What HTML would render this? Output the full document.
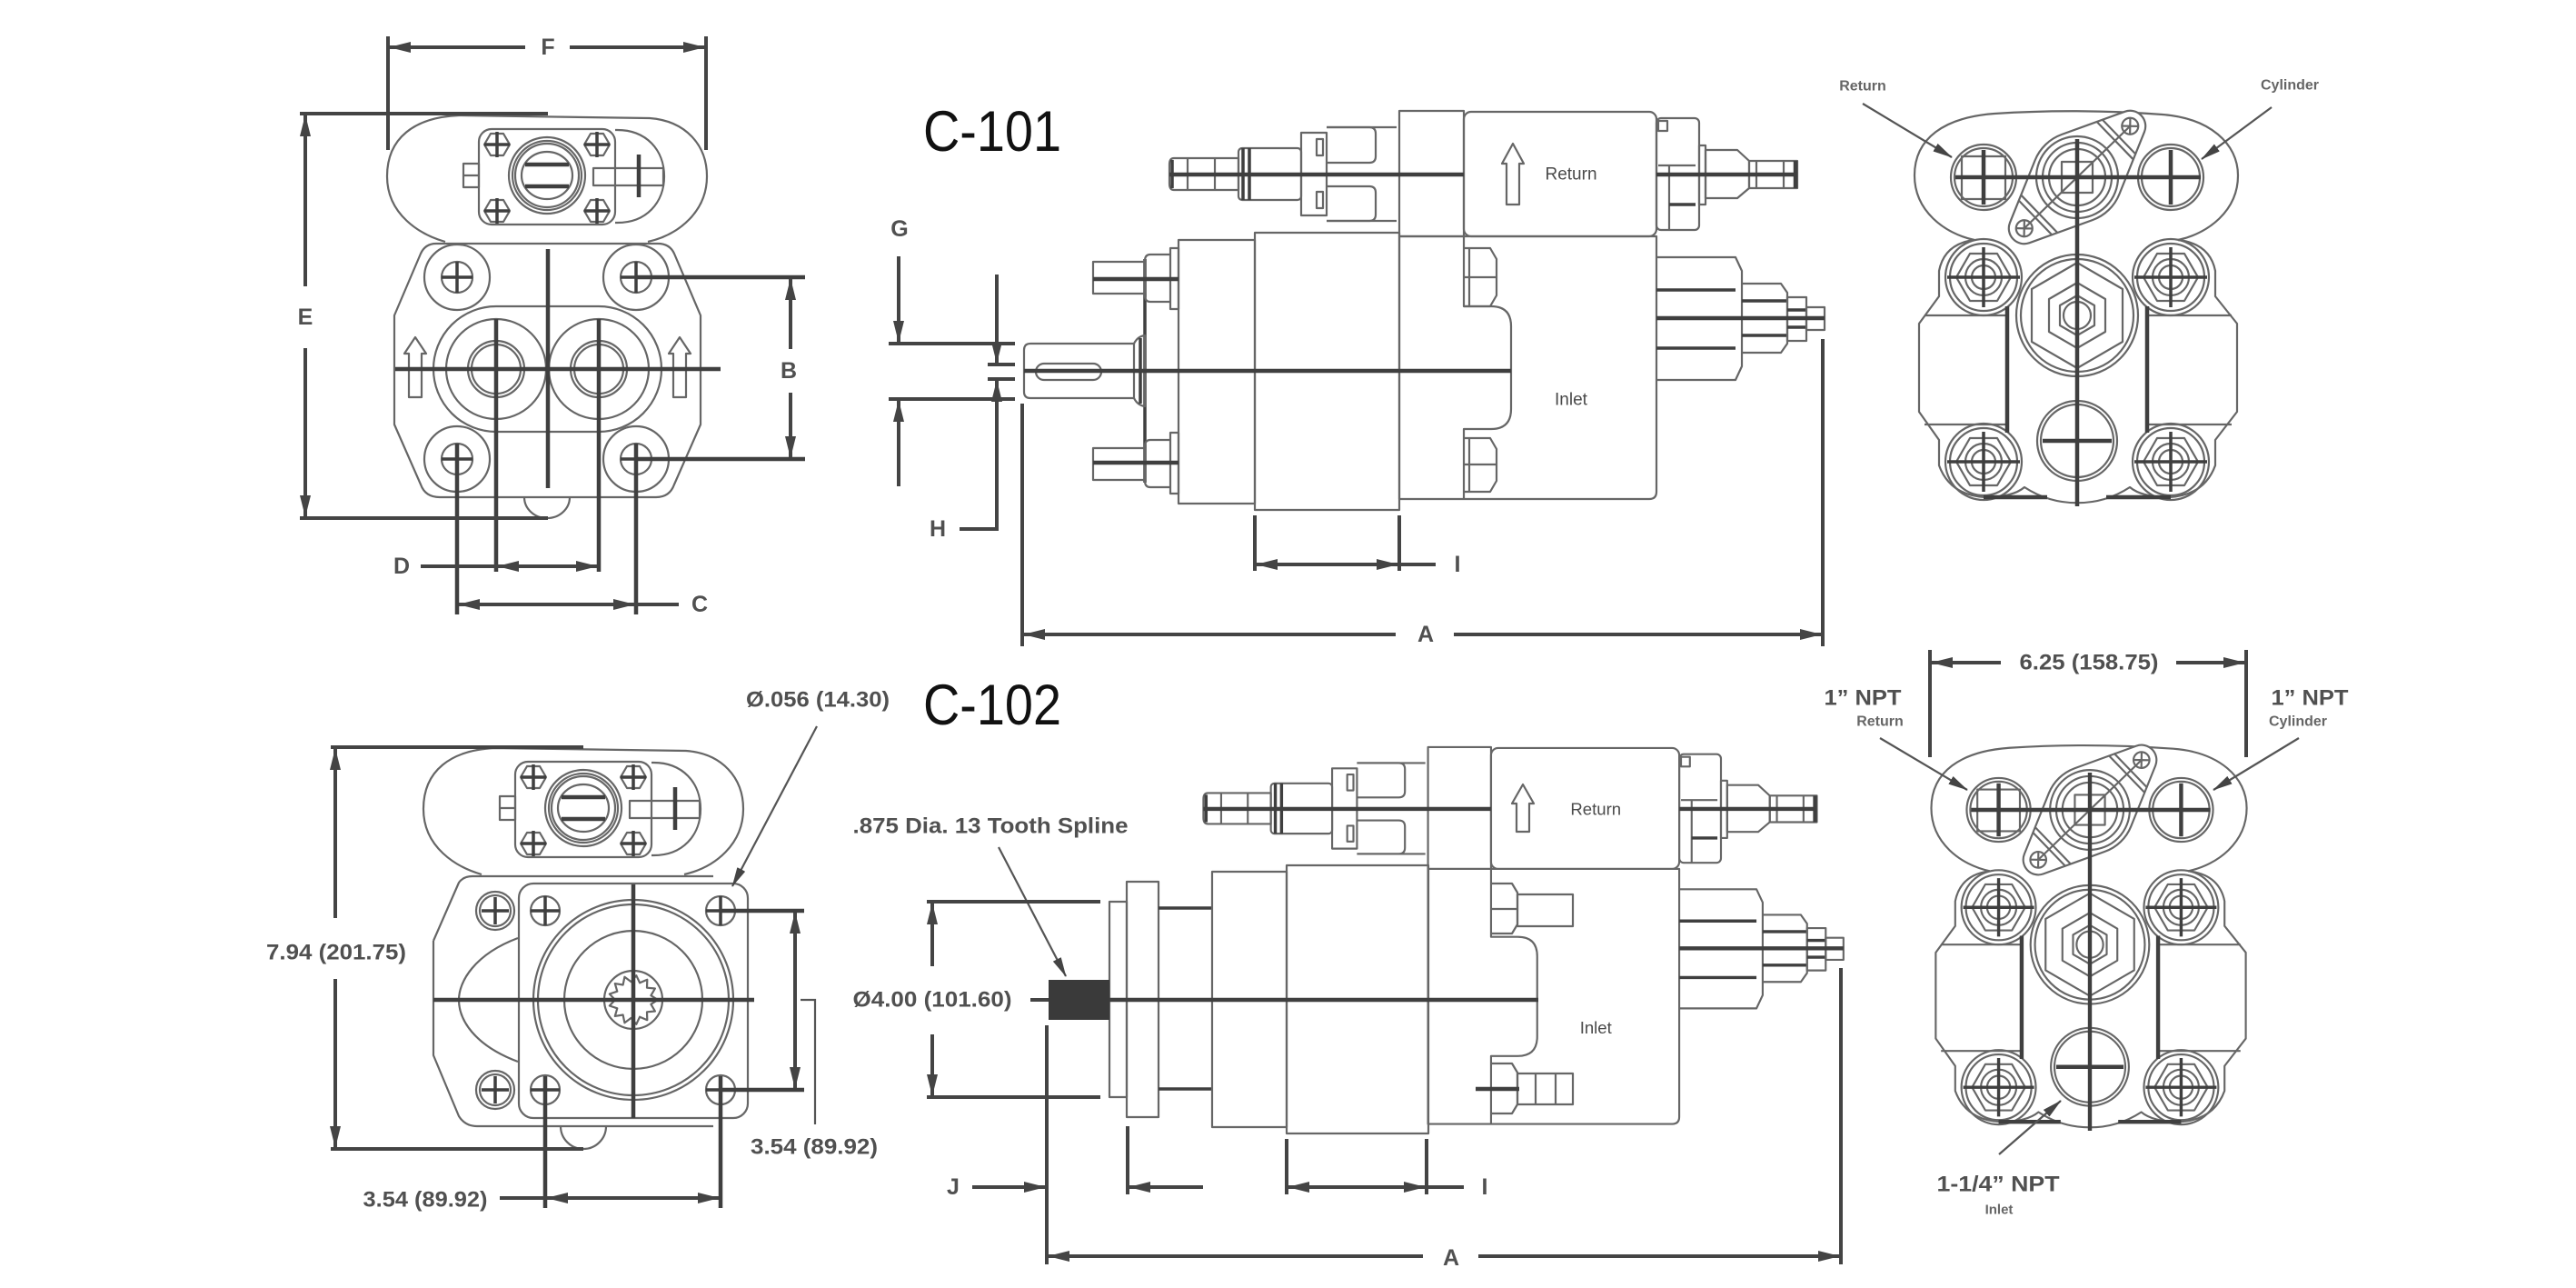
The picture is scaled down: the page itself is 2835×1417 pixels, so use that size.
<!DOCTYPE html>
<html><head><meta charset="utf-8">
<style>
html,body{margin:0;padding:0;background:#fff;}
svg{display:block;}
.o{fill:none;stroke:#666;stroke-width:2.2;stroke-linejoin:round}
.k{fill:none;stroke:#3f3f3f;stroke-width:4.5}
.k3{fill:none;stroke:#3f3f3f;stroke-width:3.5}
.d{fill:none;stroke:#444;stroke-width:4}
.th{fill:none;stroke:#555;stroke-width:2.2}
text{font-family:"Liberation Sans",Arial,sans-serif}
.L{font-size:25px;font-weight:bold;fill:#505050;text-anchor:middle;dominant-baseline:central}
.N{font-size:24px;font-weight:bold;fill:#505050;text-anchor:middle;dominant-baseline:central}
.S{font-size:16px;font-weight:bold;fill:#666;text-anchor:middle;dominant-baseline:central}
.P{font-size:19px;fill:#4a4a4a;text-anchor:middle;dominant-baseline:central}
.T{font-size:63px;fill:#111}
</style></head><body>
<svg width="2835" height="1417" viewBox="0 0 2835 1417" xmlns="http://www.w3.org/2000/svg">
<defs>
<marker id="ar" viewBox="0 0 24 12" refX="23" refY="6" markerWidth="24" markerHeight="12" markerUnits="userSpaceOnUse" orient="auto-start-reverse"><path d="M0,0 L24,6 L0,12 Z" fill="#444"/></marker>
<marker id="ar2" viewBox="0 0 22 10" refX="21" refY="5" markerWidth="22" markerHeight="10" markerUnits="userSpaceOnUse" orient="auto-start-reverse"><path d="M0,0 L22,5 L0,10 Z" fill="#444"/></marker>
</defs>
<rect width="2835" height="1417" fill="#fff"/>

<!-- ================= TOP-LEFT VIEW ================= -->
<g id="cov">
<path class="o" d="M490,266 C462,258 426,236 426,194 C426,152 456,129 505,127 L715,130 C755,133 778,160 778,194 C778,232 748,258 713,266"/>
<path class="o" d="M677,143 C712,142 731,166 731,194 C731,222 712,246 677,245"/>
<rect class="o" x="527" y="142" width="150" height="105" rx="14"/>
<polygon class="o" points="533,159 540,147 554,147 561,159 554,171 540,171"/>
<polygon class="o" points="643,159 650,147 664,147 671,159 664,171 650,171"/>
<polygon class="o" points="533,232 540,220 554,220 561,232 554,244 540,244"/>
<polygon class="o" points="643,232 650,220 664,220 671,232 664,244 650,244"/>
<path class="k3" d="M533,159H561M547,145V173 M643,159H671M657,145V173 M533,232H561M547,218V246 M643,232H671M657,218V246"/>
<circle class="o" cx="602" cy="193" r="42"/>
<circle class="o" cx="602" cy="193" r="38"/>
<circle class="o" cx="602" cy="193" r="35"/>
<ellipse class="o" cx="602" cy="193" rx="28" ry="26"/>
<path class="k" d="M578,181H626M578,205H626"/>
<rect class="o" x="510" y="180" width="17" height="26"/>
<line class="o" x1="510" y1="193" x2="527" y2="193"/>
<rect class="o" x="653" y="185" width="77" height="19"/>
<line class="k" x1="703" y1="170" x2="703" y2="217"/>
</g>
<path class="o" d="M480,268 L724,268 Q737,268 742,279 L771,347 L771,467 L742,533 Q737,547 722,547 L484,547 Q468,547 463,533 L434,467 L434,347 L463,279 Q468,268 480,268 Z"/>
<circle class="o" cx="503" cy="305" r="36"/><circle class="o" cx="503" cy="305" r="17"/>
<circle class="o" cx="700" cy="305" r="36"/><circle class="o" cx="700" cy="305" r="17"/>
<circle class="o" cx="503" cy="505" r="36"/><circle class="o" cx="503" cy="505" r="17"/>
<circle class="o" cx="700" cy="505" r="36"/><circle class="o" cx="700" cy="505" r="17"/>
<path class="k3" d="M486,305H520M503,288V322 M683,305H717M700,288V322 M486,505H520 M683,505H717"/>
<path class="o" d="M546,337 L659,337 A69,69 0 0 1 659,475 L546,475 A69,69 0 0 1 546,337 Z"/>
<circle class="o" cx="546" cy="406" r="55"/><circle class="o" cx="546" cy="406" r="31"/><circle class="o" cx="546" cy="406" r="27"/>
<circle class="o" cx="659" cy="406" r="55"/><circle class="o" cx="659" cy="406" r="31"/><circle class="o" cx="659" cy="406" r="27"/>
<path class="o" d="M457,371 L469,389 L464,389 L464,437 L450,437 L450,389 L445,389 Z"/>
<path class="o" d="M748,371 L760,389 L755,389 L755,437 L741,437 L741,389 L736,389 Z"/>
<path class="o" d="M577,547 A25,23 0 0 0 627,547"/>
<line class="k" x1="435" y1="406" x2="793" y2="406"/>
<line class="k" x1="603" y1="274" x2="603" y2="537"/>
<line class="k" x1="546" y1="351" x2="546" y2="629"/>
<line class="k" x1="659" y1="351" x2="659" y2="629"/>
<line class="k" x1="503" y1="488" x2="503" y2="676"/>
<line class="k" x1="700" y1="488" x2="700" y2="676"/>
<line class="k" x1="700" y1="305" x2="886" y2="305"/>
<line class="k" x1="700" y1="505" x2="886" y2="505"/>
<!-- dims -->
<line class="d" x1="427" y1="40" x2="427" y2="165"/>
<line class="d" x1="777" y1="40" x2="777" y2="165"/>
<line class="d" x1="578" y1="52" x2="429" y2="52" marker-end="url(#ar)"/>
<line class="d" x1="627" y1="52" x2="775" y2="52" marker-end="url(#ar)"/>
<text class="L" x="603" y="52">F</text>
<line class="d" x1="330" y1="125" x2="603" y2="125"/>
<line class="d" x1="330" y1="570" x2="603" y2="570"/>
<line class="d" x1="336" y1="315" x2="336" y2="127" marker-end="url(#ar)"/>
<line class="d" x1="336" y1="383" x2="336" y2="568" marker-end="url(#ar)"/>
<text class="L" x="336" y="349">E</text>
<line class="d" x1="870" y1="384" x2="870" y2="307" marker-end="url(#ar)"/>
<line class="d" x1="870" y1="432" x2="870" y2="503" marker-end="url(#ar)"/>
<text class="L" x="868" y="408">B</text>
<line class="d" x1="463" y1="623" x2="548" y2="623"/>
<line class="d" x1="548" y1="623" x2="657" y2="623" marker-start="url(#ar)" marker-end="url(#ar)"/>
<text class="L" x="442" y="623">D</text>
<line class="d" x1="505" y1="665" x2="698" y2="665" marker-start="url(#ar)" marker-end="url(#ar)"/>
<line class="d" x1="698" y1="665" x2="747" y2="665"/>
<text class="L" x="770" y="665">C</text>

<!-- ================= SIDE VIEW COMMON ================= -->
<g id="sv">
<rect class="o" x="1540" y="122" width="71" height="138"/>
<rect class="o" x="1611" y="123" width="212" height="137" rx="8"/>
<path class="o" d="M1460,140 H1537 M1460,243 H1537"/>
<path class="o" d="M1460,140 H1507 Q1514,140 1514,147 V172 Q1514,179 1507,179 H1460"/>
<path class="o" d="M1460,205 H1507 Q1514,205 1514,212 V236 Q1514,243 1507,243 H1460"/>
<rect class="o" x="1432" y="146" width="28" height="91"/>
<rect class="o" x="1449" y="153" width="7" height="18"/>
<rect class="o" x="1449" y="211" width="7" height="18"/>
<rect class="o" x="1363" y="163" width="69" height="57" rx="4"/>
<path class="k3" d="M1368,163V220 M1375,163V220"/>
<path class="o" d="M1292,174 H1363 V209 H1292 Q1287,209 1287,202 V181 Q1287,174 1292,174 Z"/>
<path class="o" d="M1307,174V209 M1337,174V209"/>
<line class="k3" x1="1290" y1="176" x2="1290" y2="207"/>
<line class="k" x1="1287" y1="192" x2="1611" y2="192"/>
<rect class="o" x="1823" y="130" width="47" height="123" rx="5"/>
<rect class="o" x="1825" y="133" width="10" height="11"/>
<path class="o" d="M1825,182 H1866 M1837,182 V253"/>
<line class="k3" x1="1837" y1="225" x2="1866" y2="225"/>
<rect class="o" x="1870" y="160" width="7" height="65"/>
<path class="o" d="M1877,165 H1912 L1925,177 V207 L1912,218 H1877 Z"/>
<rect class="o" x="1925" y="177" width="53" height="30"/>
<path class="o" d="M1933,177V207 M1963,177V207"/>
<line class="k" x1="1976" y1="177" x2="1976" y2="207"/>
<line class="k" x1="1823" y1="192" x2="1978" y2="192"/>
<path class="o" d="M1540,260 H1823 V541 Q1823,549 1815,549 H1540 Z"/>
<path class="o" d="M1611,260 V337 H1641 Q1663,337 1663,359 V450 Q1663,472 1641,472 H1611 V549"/>
<path class="o" d="M1823,283 H1910 L1917,298 V403 L1910,418 H1823"/>
<path class="k3" d="M1823,319 H1910 M1823,383 H1910"/>
<path class="o" d="M1917,312 H1960 L1967,322 V378 L1960,388 H1917"/>
<path class="k3" d="M1917,331 H1967 M1917,369 H1967"/>
<rect class="o" x="1967" y="327" width="21" height="48"/>
<path class="k3" d="M1967,341 H1988 M1967,360 H1988"/>
<rect class="o" x="1988" y="338" width="20" height="25"/>
<line class="k" x1="1823" y1="350" x2="2008" y2="350"/>
<text class="P" x="1729" y="192">Return</text>
<text class="P" x="1729" y="440">Inlet</text>
</g>

<!-- ================= TOP SIDE VIEW (C-101) ================= -->
<text class="T" x="1016" y="166" textLength="152" lengthAdjust="spacingAndGlyphs">C-101</text>
<path class="o" d="M1665,158 L1677,180 L1672,180 L1672,225 L1658,225 L1658,180 L1653,180 Z"/>
<rect class="o" x="1381" y="256" width="159" height="305"/>
<rect class="o" x="1297" y="264" width="84" height="290"/>
<line class="k3" x1="1260" y1="285" x2="1260" y2="531"/>
<rect class="o" x="1288" y="273" width="9" height="67"/>
<path class="o" d="M1288,280 H1266 Q1260,280 1260,287 V325 Q1260,332 1266,332 H1288"/>
<rect class="o" x="1203" y="288" width="57" height="35"/>
<line class="k" x1="1203" y1="307" x2="1297" y2="307"/>
<rect class="o" x="1288" y="476" width="9" height="67"/>
<path class="o" d="M1288,484 H1266 Q1260,484 1260,491 V529 Q1260,536 1266,536 H1288"/>
<rect class="o" x="1203" y="493" width="57" height="35"/>
<line class="k" x1="1203" y1="509" x2="1297" y2="509"/>
<path class="o" d="M1134,378 L1248,378 L1248,438 L1134,438 Q1127,438 1127,431 L1127,385 Q1127,378 1134,378 Z"/>
<rect class="o" x="1140" y="400" width="72" height="18" rx="9"/>
<path class="o" d="M1248,378 Q1252,370 1260,369 L1260,447 Q1252,446 1248,438"/>
<line class="k3" x1="1255" y1="372" x2="1255" y2="444"/>
<path class="o" d="M1611,273 H1640 L1647,285 V325 L1640,337 H1611"/>
<path class="o" d="M1611,305 H1647 M1617,273 V337"/>
<path class="o" d="M1611,482 H1640 L1647,494 V529 L1640,541 H1611"/>
<path class="o" d="M1611,511 H1647 M1617,482 V541"/>
<line class="k" x1="1127" y1="408" x2="1663" y2="408"/>
<!-- dims -->
<line class="d" x1="978" y1="378" x2="1117" y2="378"/>
<line class="d" x1="978" y1="439" x2="1117" y2="439"/>
<line class="d" x1="989" y1="282" x2="989" y2="376" marker-end="url(#ar)"/>
<line class="d" x1="989" y1="535" x2="989" y2="441" marker-end="url(#ar)"/>
<text class="L" x="990" y="252">G</text>
<line class="d" x1="1097" y1="302" x2="1097" y2="399" marker-end="url(#ar)"/>
<line class="d" x1="1087" y1="401" x2="1117" y2="401"/>
<line class="d" x1="1087" y1="417" x2="1117" y2="417"/>
<line class="d" x1="1097" y1="582" x2="1097" y2="419" marker-end="url(#ar)"/>
<line class="d" x1="1099" y1="582" x2="1056" y2="582"/>
<text class="L" x="1032" y="582">H</text>
<line class="d" x1="1125" y1="444" x2="1125" y2="711"/>
<line class="d" x1="2006" y1="373" x2="2006" y2="711"/>
<line class="d" x1="1536" y1="698" x2="1127" y2="698" marker-end="url(#ar)"/>
<line class="d" x1="1600" y1="698" x2="2004" y2="698" marker-end="url(#ar)"/>
<text class="L" x="1569" y="698">A</text>
<line class="d" x1="1381" y1="567" x2="1381" y2="628"/>
<line class="d" x1="1540" y1="567" x2="1540" y2="628"/>
<line class="d" x1="1383" y1="621" x2="1538" y2="621" marker-start="url(#ar)" marker-end="url(#ar)"/>
<line class="d" x1="1538" y1="621" x2="1580" y2="621"/>
<text class="L" x="1604" y="621">I</text>

<!-- ================= TOP-RIGHT VIEW ================= -->
<g id="rv">
<path class="o" d="M2173,264 C2140,257 2107,232 2107,193 C2107,152 2140,129 2195,125 Q2286,119 2380,126 C2432,130 2463,158 2463,193 C2463,232 2430,257 2397,264"/>
<path class="o" d="M2173,264 Q2140,268 2134,298 L2134,326 L2112,356 L2112,453 L2134,484 L2134,512 Q2146,545 2185,547 Q2215,547 2228,536 A106,106 0 0 0 2344,536 Q2357,547 2387,547 Q2426,545 2438,512 L2438,484 L2462,453 L2462,356 L2438,326 L2438,298 Q2432,268 2397,264"/>
<circle class="o" cx="2183" cy="195" r="36"/><circle class="o" cx="2183" cy="195" r="32"/>
<rect class="o" x="2159" y="172" width="48" height="47"/>
<circle class="o" cx="2389" cy="195" r="36"/><circle class="o" cx="2389" cy="195" r="32"/>
<g transform="translate(2286,195) rotate(-44)">
<path class="o" style="fill:#fff" d="M20.3,-45.7 L87.9,-15.5 A17,17 0 0 1 87.9,15.5 L20.3,45.7 A50,50 0 0 1 -20.3,45.7 L-87.9,15.5 A17,17 0 0 1 -87.9,-15.5 L-20.3,-45.7 A50,50 0 0 1 20.3,-45.7 Z"/>
<path class="o" d="M58,-29 V29 M64,-27 V27 M-58,-29 V29 M-64,-27 V27 M-81,0 H81"/>
<circle class="o" cx="81" cy="0" r="9"/><circle class="o" cx="-81" cy="0" r="9"/>
<path class="o" d="M75,-6 L87,6 M75,6 L87,-6 M-87,-6 L-75,6 M-87,6 L-75,-6"/>
</g>
<circle class="o" cx="2286" cy="195" r="45"/>
<circle class="o" cx="2286" cy="195" r="38"/>
<circle class="o" cx="2286" cy="195" r="31"/>
<rect class="o" x="2269" y="178" width="34" height="34"/>
<!-- bosses -->
<circle class="o" cx="2183" cy="305" r="42"/><circle class="o" cx="2183" cy="305" r="37"/>
<polygon class="o" points="2153,305 2168,279 2198,279 2213,305 2198,331 2168,331"/>
<circle class="o" cx="2183" cy="305" r="20"/><circle class="o" cx="2183" cy="305" r="13"/>
<circle class="o" cx="2389" cy="305" r="42"/><circle class="o" cx="2389" cy="305" r="37"/>
<polygon class="o" points="2359,305 2374,279 2404,279 2419,305 2404,331 2374,331"/>
<circle class="o" cx="2389" cy="305" r="20"/><circle class="o" cx="2389" cy="305" r="13"/>
<circle class="o" cx="2183" cy="508" r="42"/><circle class="o" cx="2183" cy="508" r="37"/>
<polygon class="o" points="2153,508 2168,482 2198,482 2213,508 2198,534 2168,534"/>
<circle class="o" cx="2183" cy="508" r="20"/><circle class="o" cx="2183" cy="508" r="13"/>
<circle class="o" cx="2389" cy="508" r="42"/><circle class="o" cx="2389" cy="508" r="37"/>
<polygon class="o" points="2359,508 2374,482 2404,482 2419,508 2404,534 2374,534"/>
<circle class="o" cx="2389" cy="508" r="20"/><circle class="o" cx="2389" cy="508" r="13"/>
<path class="k3" d="M2143,305H2223M2183,272V338 M2349,305H2429M2389,272V338 M2143,508H2223M2183,475V541 M2349,508H2429M2389,475V541"/>
<path class="o" d="M2118,347 H2209 M2118,467 H2209 M2363,347 H2456 M2363,467 H2456"/>
<path class="k" d="M2209,337 V476 M2363,337 V476"/>
<circle class="o" cx="2286" cy="347" r="67"/><circle class="o" cx="2286" cy="347" r="62"/>
<polygon class="o" points="2286,289 2336,318 2336,376 2286,405 2236,376 2236,318"/>
<polygon class="o" points="2286,311 2317,329 2317,365 2286,383 2255,365 2255,329"/>
<polygon class="o" points="2286,325 2305,336 2305,358 2286,369 2267,358 2267,336"/>
<circle class="o" cx="2286" cy="347" r="15"/>
<circle class="o" cx="2286" cy="485" r="44"/><circle class="o" cx="2286" cy="485" r="40"/>
<line class="k" x1="2248" y1="485" x2="2324" y2="485"/>
<line class="k" x1="2152" y1="195" x2="2422" y2="195"/>
<line class="k" x1="2286" y1="153" x2="2286" y2="557"/>
<path class="k" d="M2183,165V225 M2389,165V225"/>
<path class="k" d="M2183,547 H2253 M2318,547 H2389"/>
</g>
<text class="S" x="2050" y="95">Return</text>
<text class="S" x="2520" y="94">Cylinder</text>
<line class="th" x1="2050" y1="114" x2="2148" y2="173" marker-end="url(#ar2)"/>
<line class="th" x1="2500" y1="118" x2="2423" y2="175" marker-end="url(#ar2)"/>

<!-- ================= BOTTOM-LEFT VIEW ================= -->
<use href="#cov" transform="translate(40,696)"/>
<path class="o" d="M520,964 L785,964 M477,1035 L477,1161 L505,1228 Q512,1239 525,1239 L785,1239 M477,1035 L505,971 Q510,964 520,964"/>
<rect class="o" x="571" y="972" width="252" height="258" rx="16"/>
<path class="o" d="M570,1032 C522,1050 505,1080 505,1100 C505,1122 522,1150 570,1168"/>
<circle class="o" cx="545" cy="1002" r="21"/><circle class="o" cx="545" cy="1002" r="17"/>
<circle class="o" cx="545" cy="1199" r="21"/><circle class="o" cx="545" cy="1199" r="17"/>
<circle class="o" cx="600" cy="1002" r="16"/><circle class="o" cx="793" cy="1002" r="16"/>
<circle class="o" cx="600" cy="1199" r="16"/><circle class="o" cx="793" cy="1199" r="16"/>
<path class="k3" d="M530,1002H560M545,987V1017 M530,1199H560M545,1184V1214 M584,1002H616M600,986V1018 M777,1002H809M793,986V1018 M584,1199H616 M777,1199H809"/>
<circle class="o" cx="697" cy="1100" r="110"/>
<circle class="o" cx="697" cy="1100" r="105"/>
<circle class="o" cx="697" cy="1100" r="76"/>
<circle class="o" cx="697" cy="1100" r="32"/>
<polygon class="o" points="724,1100 716.4,1104.8 720.9,1112.5 712,1113.3 712.3,1122.2 704.1,1118.7 700.3,1126.8 694.6,1119.9 687.4,1125.2 685.6,1116.5 676.8,1117.9 679.3,1109.3 670.8,1106.5 677,1100 670.8,1093.5 679.3,1090.7 676.8,1082.1 685.6,1083.5 687.4,1074.8 694.6,1080.1 700.3,1073.2 704.1,1081.3 712.3,1077.8 712,1086.7 720.9,1087.5 716.4,1095.2"/>
<path class="o" d="M617,1239 A25,25 0 0 0 667,1239"/>
<line class="k" x1="477" y1="1100" x2="830" y2="1100"/>
<line class="k" x1="697" y1="973" x2="697" y2="1230"/>
<line class="k" x1="600" y1="1184" x2="600" y2="1329"/>
<line class="k" x1="793" y1="1184" x2="793" y2="1329"/>
<line class="k" x1="793" y1="1002" x2="885" y2="1002"/>
<line class="k" x1="793" y1="1199" x2="885" y2="1199"/>
<!-- dims -->
<text class="N" x="900" y="770" textLength="158" lengthAdjust="spacingAndGlyphs">Ø.056 (14.30)</text>
<line class="th" x1="899" y1="799" x2="806" y2="975" marker-end="url(#ar2)"/>
<line class="d" x1="364" y1="822" x2="642" y2="822"/>
<line class="d" x1="364" y1="1264" x2="642" y2="1264"/>
<line class="d" x1="369" y1="1010" x2="369" y2="824" marker-end="url(#ar)"/>
<line class="d" x1="369" y1="1077" x2="369" y2="1262" marker-end="url(#ar)"/>
<text class="N" x="370" y="1048" textLength="154" lengthAdjust="spacingAndGlyphs">7.94 (201.75)</text>
<line class="d" x1="875" y1="1004" x2="875" y2="1197" marker-start="url(#ar)" marker-end="url(#ar)"/>
<text class="N" x="896" y="1262" textLength="140" lengthAdjust="spacingAndGlyphs">3.54 (89.92)</text>
<line class="d" x1="550" y1="1318" x2="602" y2="1318"/>
<line class="d" x1="602" y1="1318" x2="791" y2="1318" marker-start="url(#ar)" marker-end="url(#ar)"/>
<text class="N" x="468" y="1320" textLength="137" lengthAdjust="spacingAndGlyphs">3.54 (89.92)</text>
<polyline class="th" points="881,1100 897,1100 897,1237"/>

<!-- ================= BOTTOM SIDE VIEW (C-102) ================= -->
<text class="T" x="1016" y="797" textLength="152" lengthAdjust="spacingAndGlyphs">C-102</text>
<use href="#sv" transform="matrix(0.977,0,0,0.971,67,703.5)"/>
<path class="o" d="M1676,863 L1688,884 L1683,884 L1683,915 L1669,915 L1669,884 L1664,884 Z"/>
<rect class="o" x="1221" y="992" width="19" height="215"/>
<rect class="o" x="1240" y="970" width="35" height="259"/>
<path class="k3" d="M1275,999 H1334 M1275,1198 H1334"/>
<rect class="o" x="1334" y="959" width="82" height="281"/>
<rect class="o" x="1416" y="952" width="156" height="295"/>
<path class="o" d="M1641,972 H1664 L1670,982 V1017 L1664,1027 H1641 M1641,1000 H1670"/>
<rect class="o" x="1670" y="984" width="61" height="35"/>
<path class="o" d="M1641,1170 H1664 L1670,1180 V1215 L1664,1225 H1641"/>
<rect class="o" x="1670" y="1181" width="61" height="34"/>
<path class="o" d="M1690,1181 V1215 M1712,1181 V1215"/>
<line class="k" x1="1624" y1="1198" x2="1672" y2="1198"/>
<rect x="1154" y="1078" width="67" height="44" fill="#3a3a3a"/>
<line class="k" x1="1221" y1="1100" x2="1693" y2="1100"/>
<!-- dims -->
<text class="N" x="1090" y="909" textLength="303" lengthAdjust="spacingAndGlyphs">.875 Dia. 13 Tooth Spline</text>
<line class="th" x1="1099" y1="932" x2="1173" y2="1074" marker-end="url(#ar2)"/>
<text class="N" x="1026" y="1100" textLength="175" lengthAdjust="spacingAndGlyphs">Ø4.00 (101.60)</text>
<line class="d" x1="1020" y1="992" x2="1211" y2="992"/>
<line class="d" x1="1020" y1="1207" x2="1211" y2="1207"/>
<line class="d" x1="1026" y1="1063" x2="1026" y2="994" marker-end="url(#ar)"/>
<line class="d" x1="1026" y1="1138" x2="1026" y2="1205" marker-end="url(#ar)"/>
<line class="d" x1="1134" y1="1100" x2="1154" y2="1100"/>
<text class="L" x="1049" y="1306">J</text>
<line class="d" x1="1070" y1="1306" x2="1150" y2="1306" marker-end="url(#ar)"/>
<line class="d" x1="1152" y1="1128" x2="1152" y2="1391"/>
<line class="d" x1="1241" y1="1239" x2="1241" y2="1314"/>
<line class="d" x1="1324" y1="1306" x2="1243" y2="1306" marker-end="url(#ar)"/>
<line class="d" x1="1416" y1="1253" x2="1416" y2="1314"/>
<line class="d" x1="1570" y1="1253" x2="1570" y2="1314"/>
<line class="d" x1="1418" y1="1306" x2="1568" y2="1306" marker-start="url(#ar)" marker-end="url(#ar)"/>
<line class="d" x1="1568" y1="1306" x2="1611" y2="1306"/>
<text class="L" x="1634" y="1306">I</text>
<line class="d" x1="2026" y1="1065" x2="2026" y2="1391"/>
<line class="d" x1="1566" y1="1382" x2="1154" y2="1382" marker-end="url(#ar)"/>
<line class="d" x1="1627" y1="1382" x2="2024" y2="1382" marker-end="url(#ar)"/>
<text class="L" x="1597" y="1384">A</text>

<!-- ================= BOTTOM-RIGHT VIEW ================= -->
<use href="#rv" transform="translate(2300,891) scale(0.975) translate(-2286,-195)"/>
<line class="d" x1="2124" y1="715" x2="2124" y2="833"/>
<line class="d" x1="2472" y1="715" x2="2472" y2="833"/>
<line class="d" x1="2202" y1="729" x2="2126" y2="729" marker-end="url(#ar)"/>
<line class="d" x1="2395" y1="729" x2="2470" y2="729" marker-end="url(#ar)"/>
<text class="N" x="2299" y="729" textLength="153" lengthAdjust="spacingAndGlyphs">6.25 (158.75)</text>
<text class="N" x="2050" y="768" textLength="85" lengthAdjust="spacingAndGlyphs">1” NPT</text>
<text class="S" x="2069" y="794">Return</text>
<text class="N" x="2542" y="768" textLength="85" lengthAdjust="spacingAndGlyphs">1” NPT</text>
<text class="S" x="2529" y="794">Cylinder</text>
<line class="th" x1="2069" y1="812" x2="2165" y2="869" marker-end="url(#ar2)"/>
<line class="th" x1="2530" y1="812" x2="2436" y2="869" marker-end="url(#ar2)"/>
<text class="N" x="2199" y="1303" textLength="135" lengthAdjust="spacingAndGlyphs">1-1/4” NPT</text>
<text class="S" x="2200" y="1331" style="font-size:15px">Inlet</text>
<line class="th" x1="2200" y1="1270" x2="2268" y2="1211" marker-end="url(#ar2)"/>
</svg>
</body></html>
